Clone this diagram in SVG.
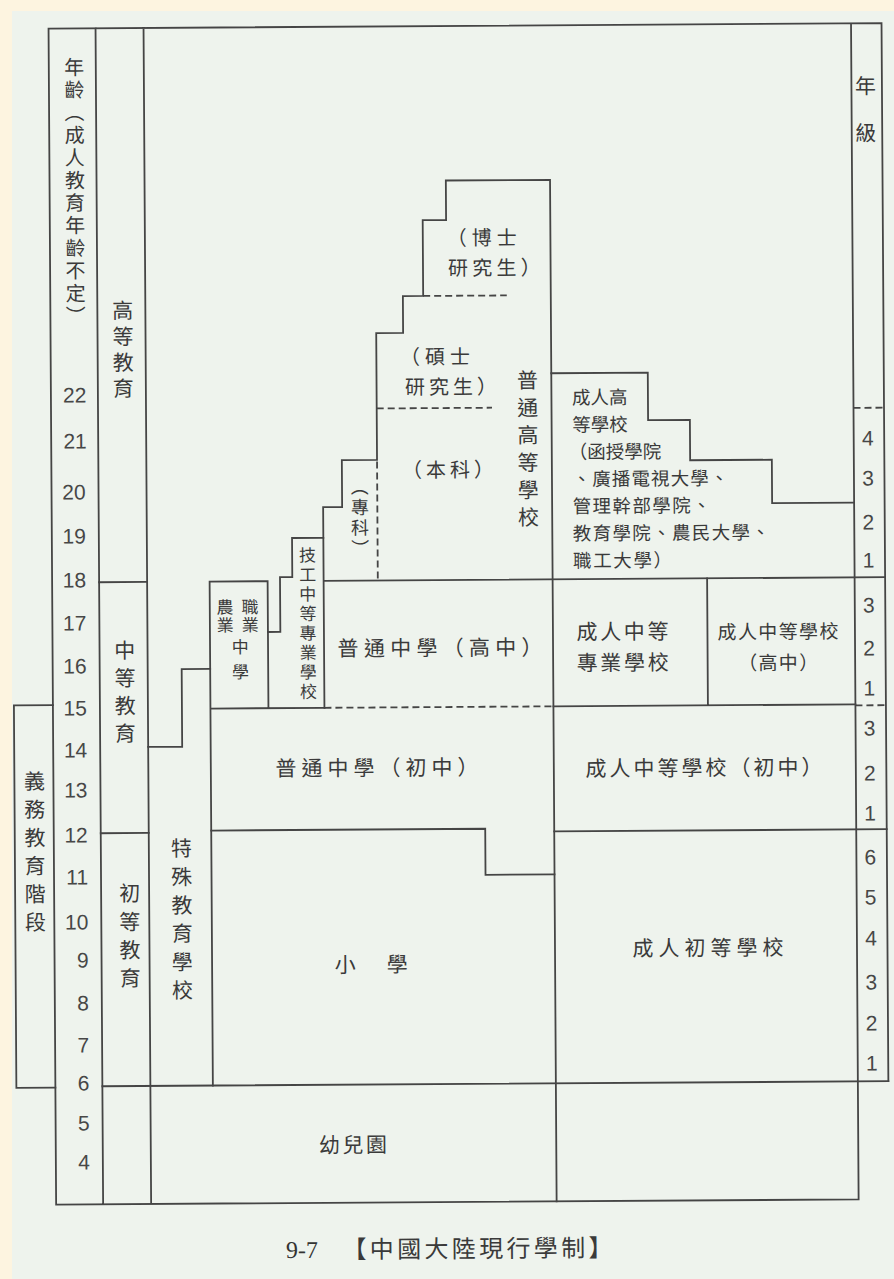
<svg xmlns="http://www.w3.org/2000/svg" width="894" height="1279" viewBox="0 0 894 1279">
<style>
.ln{fill:none;stroke:#454545;stroke-width:1.8;stroke-linecap:square}
.ds{fill:none;stroke:#454545;stroke-width:1.8;stroke-dasharray:7 4}
.t{font-family:"Noto Sans CJK TC","Noto Sans CJK SC",sans-serif;fill:#3a3a3a}
.v{writing-mode:vertical-rl}
.n{font-family:"Liberation Sans",Arial,sans-serif;font-size:21px;fill:#474747}
.c{text-anchor:middle}
</style>
<rect width="894" height="1279" fill="#fdf4e0"/>
<rect x="12" y="11" width="882" height="1268" fill="#eef3ed"/>
<g transform="rotate(-0.37 450 640)">
<g id="connectors">
<path class="ln" d="M52.5,26 H885.5 V1084 M52.5,26 V1202 H855 V26 M99.5,26 V1202 M147.5,26 V1202"/>
<path class="ln" d="M99.5,580 H147.5 M99.5,831 H147.5 M99.5,1084 H885.5"/>
<path class="ln" d="M52.5,702.5 H13.5 V1085 H52.5"/>
<path class="ln" d="M147.5,745 H181.5 V667.3 H210"/>
<path class="ln" d="M210,1084 V580 H268 V707 M210,707 H324"/>
<path class="ln" d="M268,630.8 H280.4 V576 H292.7 V537 H324 V506.3 H343 V459.4 H378.2 V332.6 H405.1 V295.8 H425.4 V220 H448.8 V180.5 H553 V1202"/>
<path class="ln" d="M324,537 V707 M324,580 H885.5"/>
<path class="ds" d="M425.4,295.8 H509 M378.2,408 H493.5 M378.2,461 V580 M324,707 H553 M855,410.5 H885.5 M855,708 H885.5"/>
<path class="ln" d="M553,373.9 H649.5 V421.4 H691.3 V461.8 H773 V505.3 H855"/>
<path class="ln" d="M707.5,580 V707 M553,707 H855 M553,832 H885.5"/>
<path class="ln" d="M210,829 H484 V875 H553"/>
</g>
<g id="age-axis">
<text class="t v" x="77.9" y="54.6" font-size="20" letter-spacing="2.6">年齡（成人教育年齡不定）</text>
<g class="n" text-anchor="end">
<text x="88" y="400.1">22</text><text x="88" y="446.1">21</text><text x="86.5" y="497.1">20</text><text x="86.5" y="541.1">19</text><text x="86.5" y="585.1">18</text><text x="86.5" y="628.1">17</text><text x="86.5" y="671.1">16</text><text x="86.5" y="713.1">15</text><text x="86.5" y="755.1">14</text><text x="86.5" y="795.1">13</text><text x="86.5" y="840.1">12</text><text x="86.5" y="882.1">11</text><text x="86.5" y="927.1">10</text><text x="86.5" y="965.1">9</text><text x="86.5" y="1008.1">8</text><text x="86.5" y="1050.1">7</text><text x="86.5" y="1088.1">6</text><text x="86.5" y="1128.1">5</text><text x="86.5" y="1167.1">4</text>
</g>
</g>
<g id="grade-axis">
<text class="t v" x="869" y="78" font-size="21" letter-spacing="26">年級</text>
<g class="n c">
<text x="869" y="448.2">4</text><text x="869" y="488.2">3</text><text x="869" y="532.2">2</text><text x="869" y="570.2">1</text>
<text x="869" y="615.2">3</text><text x="869" y="658.2">2</text><text x="869" y="698.2">1</text>
<text x="869" y="738.2">3</text><text x="869" y="783.2">2</text><text x="869" y="823.2">1</text>
<text x="869" y="867.2">6</text><text x="869" y="907.2">5</text><text x="869" y="948.2">4</text><text x="869" y="992.2">3</text><text x="869" y="1033.2">2</text><text x="869" y="1073.2">1</text>
</g>
</g>
<g id="compulsory"><text class="t v" x="33.6" y="767.8" font-size="21" letter-spacing="7.2">義務教育階段</text></g>
<g id="higher-edu"><text class="t v" x="124.9" y="297.5" font-size="21" letter-spacing="5">高等教育</text></g>
<g id="secondary-edu"><text class="t v" x="124.7" y="637.5" font-size="21" letter-spacing="6.7">中等教育</text></g>
<g id="primary-edu"><text class="t v" x="128" y="880.5" font-size="21" letter-spacing="7.3">初等教育</text></g>
<g id="special-school"><text class="t v" x="180.2" y="835.8" font-size="21" letter-spacing="7.4">特殊教育學校</text></g>
<g id="vocational">
<text class="t v" x="250.2" y="597" font-size="17" letter-spacing="1">職業</text>
<text class="t v" x="225.2" y="597" font-size="17" letter-spacing="1">農業</text>
<text class="t v" x="240.2" y="637" font-size="17" letter-spacing="8">中學</text>
</g>
<g id="technical"><text class="t v" x="308.1" y="545.5" font-size="17" letter-spacing="2.5">技工中等專業學校</text></g>
<g id="university">
<text class="t v" x="529.2" y="370" font-size="21" letter-spacing="6.4">普通高等學校</text>
<text class="t c" x="484.3" y="245.2" font-size="20" textLength="70" lengthAdjust="spacing">（博士</text>
<text class="t c" x="496.7" y="275.3" font-size="20" textLength="92.6" lengthAdjust="spacing">研究生）</text>
<text class="t c" x="436.8" y="363.9" font-size="20" textLength="70" lengthAdjust="spacing">（碩士</text>
<text class="t c" x="452.6" y="394" font-size="20" textLength="92" lengthAdjust="spacing">研究生）</text>
<text class="t c" x="449.1" y="477" font-size="20" textLength="92" lengthAdjust="spacing">（本科）</text>
<text class="t v" x="360.8" y="477" font-size="18" letter-spacing="2.5">（專科）</text>
</g>
<g id="adult-higher" class="t" font-size="18.5">
<text x="573.5" y="405">成人高</text>
<text x="573.5" y="432.2">等學校</text>
<text x="570" y="459.4">（函授學院</text>
<text x="573.5" y="486.6" textLength="156" lengthAdjust="spacing">、廣播電視大學、</text>
<text x="573.5" y="513.8" textLength="138" lengthAdjust="spacing">管理幹部學院、</text>
<text x="573.5" y="541" textLength="197" lengthAdjust="spacing">教育學院、農民大學、</text>
<text x="573.5" y="568.2" textLength="99" lengthAdjust="spacing">職工大學）</text>
</g>
<g id="senior-high"><text class="t c" x="440" y="655.4" font-size="21" textLength="205" lengthAdjust="spacing">普通中學（高中）</text></g>
<g id="adult-vocational">
<text class="t c" x="622.5" y="640.4" font-size="21" textLength="92" lengthAdjust="spacing">成人中等</text>
<text class="t c" x="622.5" y="671.4" font-size="21" textLength="92" lengthAdjust="spacing">專業學校</text>
</g>
<g id="adult-senior">
<text class="t c" x="778" y="640.7" font-size="19" textLength="121" lengthAdjust="spacing">成人中等學校</text>
<text class="t c" x="778" y="671.7" font-size="19" textLength="80" lengthAdjust="spacing">（高中）</text>
</g>
<g id="junior-high"><text class="t c" x="376.2" y="774.9" font-size="21" textLength="203" lengthAdjust="spacing">普通中學（初中）</text></g>
<g id="adult-junior"><text class="t c" x="703.2" y="777" font-size="21" textLength="237" lengthAdjust="spacing">成人中等學校（初中）</text></g>
<g id="primary"><text class="t c" x="369" y="971.7" font-size="21" textLength="73" lengthAdjust="spacing">小　學</text></g>
<g id="adult-primary"><text class="t c" x="706" y="957.1" font-size="21" textLength="151" lengthAdjust="spacing">成人初等學校</text></g>
<g id="kindergarten"><text class="t c" x="349.7" y="1151.8" font-size="21" textLength="68" lengthAdjust="spacing">幼兒園</text></g>
<g id="caption">
<text x="282" y="1257" font-family="Liberation Serif, serif" font-size="24" fill="#333">9-7</text>
<text class="t c" x="473.5" y="1257.4" font-size="24" textLength="270" lengthAdjust="spacing" fill="#333">【中國大陸現行學制】</text>
</g>
</g>
</svg>
